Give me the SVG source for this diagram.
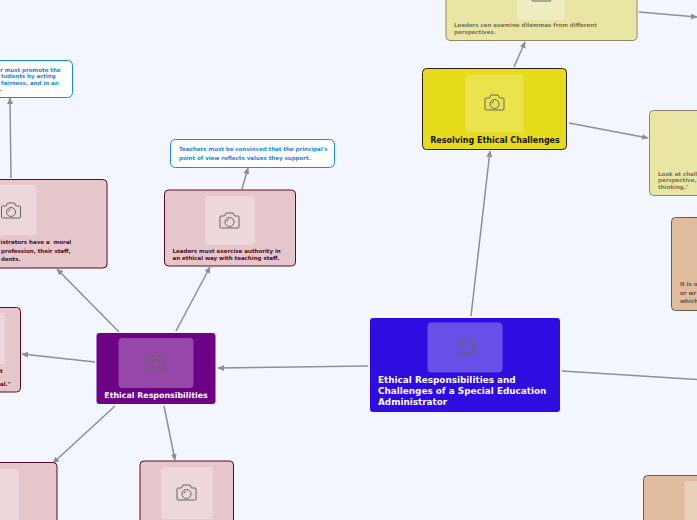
<svg xmlns="http://www.w3.org/2000/svg" width="697" height="520" viewBox="0 0 697 520">
<style>
text{font-family:"DejaVu Sans",sans-serif;font-weight:700;opacity:.99;white-space:pre}
.s{font-size:5.500px}
.r{fill:#4a0d20}.y{fill:#77775a}.b{fill:#1b86ea}.o{fill:#6a5140}
.w{font-size:8.850px;fill:#fff}
.cn line{stroke:#8b8f96;stroke-width:1.500;marker-end:url(#a)}
.cam{fill:none;stroke:#666;stroke-width:1}
.pr{fill:#e5c6cb;stroke:#5c0a22;stroke-width:1}
.py{fill:#e9e5a5;stroke:#8c8a66;stroke-width:1}
.po{fill:#e0bc9e;stroke:#6d5a4a;stroke-width:1}
.pb{fill:#fff;stroke:#1b86ea;stroke-width:1}
.th{fill:#fff;fill-opacity:.3}
</style>
<defs>
<marker id="a" markerWidth="8" markerHeight="8" refX="6" refY="3" orient="auto" markerUnits="userSpaceOnUse"><path d="M0 0L6.500 3L0 6Z" fill="#8b8f96"/></marker>
<g id="c" class="cam"><path d="M-8.500 -5H-5L-3.500 -8H3.500L5 -5H8.500Q9.500 -5 9.500 -4V6Q9.500 7 8.500 7H-8.500Q-9.500 7 -9.500 6V-4Q-9.500 -5 -8.500 -5Z"/><circle cx="0" cy="1" r="4.500"/><path d="M-2.500 0.500Q-2 -1.500 -0.500 -2"/></g>
</defs>
<rect width="697" height="520" fill="#f3f6ff"/>
<g id="connectors" class="cn">
<line x1="471" y1="316" x2="490" y2="151"/>
<line x1="368" y1="366" x2="218" y2="368"/>
<line x1="562" y1="371" x2="720" y2="381"/>
<line x1="514" y1="67" x2="525" y2="42"/>
<line x1="569" y1="123" x2="648" y2="138"/>
<line x1="639" y1="12" x2="697" y2="17"/>
<line x1="119" y1="332" x2="57" y2="269"/>
<line x1="176" y1="331" x2="210" y2="267"/>
<line x1="95" y1="362" x2="22" y2="354"/>
<line x1="115" y1="406" x2="53" y2="463"/>
<line x1="164" y1="406" x2="175" y2="460"/>
<line x1="242" y1="189" x2="248" y2="168"/>
<line x1="11" y1="178" x2="10" y2="98"/>
</g>
<g id="n-root"><rect x="370" y="318" width="190" height="94" rx="3" fill="#2f0cdf"/><rect x="427.500" y="322.500" width="75" height="50" rx="4" fill="#fff" fill-opacity=".28"/><use href="#c" x="465" y="347"/>
<text class="w" x="378" y="383">Ethical Responsibilities and</text><text class="w" x="378" y="394">Challenges of a Special Education</text><text class="w" x="378" y="405">Administrator</text></g>
<g id="n-ethical"><rect x="96.500" y="333" width="119" height="71" rx="3" fill="#6d0287"/><rect x="118.500" y="338" width="75" height="50" rx="4" fill="#fff" fill-opacity=".28"/><use href="#c" x="155.500" y="363"/>
<text class="w" x="156" y="398" text-anchor="middle" style="font-size:7.900px">Ethical Responsibilities</text></g>
<g id="n-resolving"><rect x="422.500" y="68.500" width="144" height="81" rx="4" fill="#e6dc1a" stroke="#222"/><rect x="465.500" y="74.500" width="58" height="58" rx="3" fill="#fff" fill-opacity=".22"/><use href="#c" x="494.500" y="103"/>
<text x="495" y="142.500" text-anchor="middle" font-size="8" fill="#111">Resolving Ethical Challenges</text></g>
<g id="n-dilemmas"><rect x="446" y="-30" width="191" height="70.500" rx="4" class="py"/><rect x="517" y="-20" width="48" height="40" rx="3" class="th"/><use href="#c" x="541.500" y="-6"/>
<text class="s y" x="454" y="27">Leaders can examine dilemmas from different</text><text class="s y" x="454" y="34">perspectives.</text></g>
<g id="n-look"><rect x="649.500" y="110.500" width="70" height="85" rx="4" class="py"/>
<text class="s y" x="658" y="176">Look at chall</text><text class="s y" x="658" y="182">perspective,</text><text class="s y" x="658" y="189">thinking."</text></g>
<g id="n-right"><rect x="671.500" y="217.500" width="60" height="93" rx="4" class="po"/>
<text class="s o" x="680" y="286">It is o</text><text class="s o" x="680" y="295">or wr</text><text class="s o" x="680" y="303">which</text></g>
<g id="n-bottomright"><rect x="643.500" y="475.500" width="80" height="70" rx="4" class="po"/><rect x="684.500" y="481" width="40" height="50" rx="3" class="th"/></g>
<g id="n-moral"><rect x="-40" y="179.500" width="147" height="88.500" rx="4" class="pr"/><rect x="-20" y="185" width="56.500" height="50" rx="3" class="th"/><use href="#c" x="11" y="211"/>
<text class="s r" x="0.500" y="244">istrators have a  moral</text><text class="s r" x="1" y="253">profession, their staff,</text><text class="s r" x="1" y="261">dents.</text></g>
<g id="n-authority"><rect x="164.500" y="190" width="131" height="76" rx="4" class="pr"/><rect x="205" y="196" width="50" height="49" rx="3" class="th"/><use href="#c" x="229.500" y="221"/>
<text class="s r" x="172.500" y="253">Leaders must exercise authority in</text><text class="s r" x="172.500" y="260">an ethical way with teaching staff.</text></g>
<g id="n-left"><rect x="-40" y="307.500" width="60.500" height="84.500" rx="4" class="pr"/><rect x="-20" y="313" width="25" height="51" rx="3" class="th"/>
<text class="s r" x="0" y="373">t</text><text class="s r" x="0" y="386">al."</text></g>
<g id="n-bl"><rect x="-40" y="462.500" width="97" height="80" rx="4" class="pr"/><rect x="-20" y="469" width="39" height="60" rx="3" class="th"/></g>
<g id="n-bm"><rect x="140" y="461" width="93.500" height="80" rx="4" class="pr"/><rect x="161" y="467" width="52" height="52" rx="3" class="th"/><use href="#c" x="186.500" y="493"/></g>
<g id="n-teachers"><rect x="170.500" y="139.500" width="164" height="28" rx="5" class="pb"/>
<text class="s b" x="179" y="151">Teachers must be convinced that the principal's</text><text class="s b" x="179" y="160">point of view reflects values they support.</text></g>
<g id="n-promote"><rect x="-60" y="60.500" width="132.500" height="37" rx="5" class="pb"/>
<text class="s b" x="0" y="71.500">r must promote the</text><text class="s b" x="1" y="77.500">tudents by acting</text><text class="s b" x="1" y="84.500">fairness, and in an</text><text class="s b" x="0" y="90.500">.</text></g>
</svg>
